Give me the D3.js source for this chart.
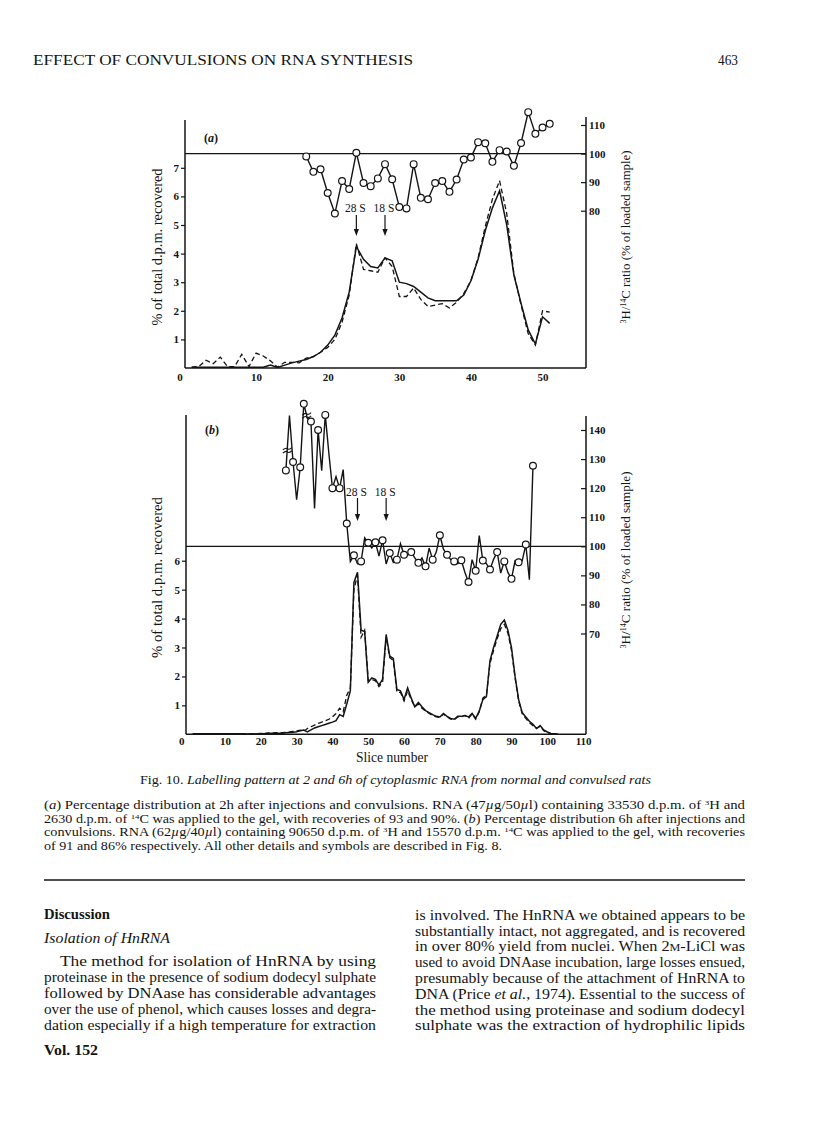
<!DOCTYPE html>
<html><head><meta charset="utf-8">
<script src="https://cdn.jsdelivr.net/npm/d3@7"></script>
<style>body{margin:0;background:#fff}text{white-space:pre}</style>
</head><body>
<svg id="c" width="816" height="1136"></svg>
<script>
// ---------------- DATA ----------------
// Panel (a): 2 h
const slicesA = [1,2,3,4,5,6,7,8,9,10,11,12,13,14,15,16,17,18,19,20,21,22,23,24,25,26,27,28,29,30,31,32,33,34,35,36,37,38,39,40,41,42,43,44,45,46,47,48,49,50,51];
const solidA  = [0.03,0.03,0.03,0.03,0.03,0.03,0.03,0.03,0.03,0.03,0.03,0.1,0.02,0.1,0.18,0.24,0.3,0.4,0.55,0.8,1.15,1.75,2.65,4.25,3.8,3.55,3.5,3.85,3.75,3.0,2.95,2.85,2.65,2.45,2.35,2.35,2.35,2.35,2.55,3.05,3.8,4.8,5.6,6.2,5.0,3.25,2.26,1.33,0.84,1.79,1.56];
const dashedA = [0.03,0.05,0.27,0.15,0.38,0.05,0.05,0.48,0.05,0.52,0.42,0.25,0.03,0.2,0.2,0.18,0.35,0.4,0.55,0.72,1.0,1.6,2.55,4.35,3.45,3.4,3.35,3.85,3.55,2.5,2.5,2.8,2.4,2.15,2.2,2.25,2.1,2.3,2.6,3.05,3.85,4.95,5.9,6.55,5.4,3.3,2.2,1.2,0.8,2.0,1.95];
const ratioSlicesA = [17,18,19,20,21,22,23,24,25,26,27,28,29,30,31,32,33,34,35,36,37,38,39,40,41,42,43,44,45,46,47,48,49,50,51];
const ratioA = [99,93.6,94.5,86.2,79,90.4,87.6,100.3,89.7,88.6,91.3,96.3,91,81.3,80.8,96.3,84.5,84,89.7,90.4,86.6,90.9,97.9,98.6,104,103.6,97.1,101.2,100.7,95.7,103.7,114.5,106.9,109.1,110.4];
const markersA = ["28 S","18 S"];
const markerSlicesA = [24,28];
const xTicksA = [0,10,20,30,40,50];
const leftTicksA = [1,2,3,4,5,6,7];
const rightTicksA = [80,90,100,110];

// Panel (b): 6 h
const slicesB = [1,2,3,4,5,6,7,8,9,10,11,12,13,14,15,16,17,18,19,20,21,22,23,24,25,26,27,28,29,30,31,32,33,34,35,36,37,38,39,40,41,42,43,44,45,46,47,48,49,50,51,52,53,54,55,56,57,58,59,60,61,62,63,64,65,66,67,68,69,70,71,72,73,74,75,76,77,78,79,80,81,82,83,84,85,86,87,88,89,90,91,92,93,94,95,96,97,98,99,100,101,102,103];
const solidB  = [0.02,0.02,0.02,0.02,0.02,0.02,0.02,0.02,0.02,0.02,0.02,0.02,0.02,0.02,0.02,0.01,0.01,0.01,0.02,0.03,0.02,0.03,0.04,0.03,0.04,0.04,0.05,0.06,0.07,0.09,0.12,0.15,0.08,0.15,0.22,0.26,0.3,0.34,0.38,0.42,0.47,0.68,0.62,1.05,1.5,5.25,5.6,3.6,3.55,1.8,1.95,1.9,1.7,1.9,3.45,2.7,2.62,1.55,1.5,1.2,1.6,1.25,0.95,1.1,0.95,0.82,0.75,0.68,0.62,0.6,0.72,0.62,0.55,0.52,0.62,0.62,0.65,0.6,0.72,0.55,0.8,1.2,1.3,2.55,3.0,3.4,3.8,3.95,3.6,3.0,2.0,1.2,0.75,0.6,0.45,0.35,0.2,0.3,0.15,0.08,0.03,0.02,0];
const dashedB = [0.02,0.02,0.02,0.02,0.02,0.02,0.02,0.02,0.02,0.02,0.02,0.02,0.02,0.02,0.02,0.02,0.02,0.02,0.02,0.02,0.03,0.05,0.04,0.06,0.05,0.06,0.07,0.08,0.1,0.12,0.14,0.1,0.2,0.26,0.32,0.38,0.42,0.47,0.52,0.6,0.72,0.9,0.78,1.35,1.6,5.0,5.5,3.35,3.6,1.85,1.9,1.85,1.65,1.8,3.35,2.65,2.55,1.45,1.45,1.15,1.5,1.2,0.95,1.05,0.9,0.8,0.72,0.65,0.6,0.58,0.7,0.6,0.52,0.5,0.6,0.6,0.65,0.55,0.7,0.52,0.78,1.25,1.35,2.45,2.9,3.3,3.65,3.8,3.5,2.9,1.95,1.15,0.7,0.55,0.4,0.3,0.2,0.28,0.12,0.06,0.02,0.01,0];
const ratioSlicesB = [27,28,29,30,31,32,33,34,35,36,37,38,39,40,41,42,43,44,45,46,47,48,49,50,51,52,53,54,55,56,57,58,59,60,61,62,63,64,65,66,67,68,69,70,71,72,73,74,75,76,77,78,79,80,81,82,83,84,85,86,87,88,89,90,91,92,93,94,95,96];
const ratioB = [126.1,145,129,116,127.2,149,144,142.9,113,140,126,145.2,132,120,124,120,126.4,107.8,94.8,96.9,94,94.8,102.9,101.2,99.4,101.4,96.6,102.1,93.9,97.7,94.5,95.4,100.9,97.1,97,98,96,94.3,96,93.1,99.4,95.4,98,103.8,99,97.1,95.5,94.8,94,95.2,91,87.7,95.4,91.6,103.7,95.1,94,92,95.5,98,90.8,94.8,91,88.8,95,94.5,95,100.6,88.5,127.7];
const circleSlicesB = [27,29,31,32,34,36,38,40,42,44,46,48,50,52,54,56,58,60,62,64,66,68,70,72,74,76,78,80,82,84,86,88,90,92,94,96];
const breakSlicesB = [27.4,32.8];
const breakValuesB = [133,145];
const markersB = ["28 S","18 S"];
const markerSlicesB = [47,55];
const xTicksB = [0,10,20,30,40,50,60,70,80,90,100,110];
const leftTicksB = [1,2,3,4,5,6];
const rightTicksB = [70,80,90,100,110,120,130,140];

// ---------------- DRAW ----------------
const svg = d3.select('#c');
const INK = '#141414';
const SERIF = '"Liberation Serif","Times New Roman",serif';

function rich(x, y, segs, o = {}) {
  const size = o.size || 12;
  const t = svg.append('text').attr('x', x).attr('y', y)
    .attr('font-family', SERIF).attr('font-size', size).attr('fill', INK);
  if (o.anchor) t.attr('text-anchor', o.anchor);
  if (o.weight) t.attr('font-weight', o.weight);
  if (o.italic) t.attr('font-style', 'italic');
  if (o.len) t.attr('textLength', o.len).attr('lengthAdjust', 'spacingAndGlyphs');
  if (o.transform) t.attr('transform', o.transform);
  const sh = size * 0.32;
  let up = false;
  segs.forEach(s => {
    const str = typeof s === 'string' ? s : s[0];
    const st = typeof s === 'string' ? '' : s[1];
    const ts = t.append('tspan').text(str);
    if (st === 'sup') {
      ts.attr('font-size', size * 0.62);
      if (!up) { ts.attr('dy', -sh); up = true; }
    } else {
      if (up) { ts.attr('dy', sh); up = false; }
      if (st === 'i') ts.attr('font-style', 'italic');
      if (st === 'b') ts.attr('font-weight', 'bold');
      if (st === 'sc') ts.attr('font-size', size * 0.75);
    }
  });
  return t;
}

function styleAxis(g, size) {
  g.select('.domain').remove();
  g.selectAll('line').attr('stroke', INK).attr('stroke-width', 1.2);
  g.selectAll('text').attr('font-family', SERIF).attr('font-size', size)
    .attr('font-weight', 'bold').attr('fill', INK);
}

function panel(p) {
  const g = svg.append('g');
  const fr = (x1, y1, x2, y2) => g.append('line').attr('x1', x1).attr('y1', y1).attr('x2', x2).attr('y2', y2)
    .attr('stroke', INK).attr('stroke-width', 1.5);
  fr(p.left, p.topL, p.left, p.bottom);
  fr(p.right, p.topR, p.right, p.bottom);
  fr(p.left, p.bottom, p.right, p.bottom);
  fr(p.left, p.r(100), p.right, p.r(100)).attr('stroke-width', 1.3);

  const ax = g.append('g').attr('transform', `translate(0,${p.bottom})`)
    .call(d3.axisBottom(p.x).tickValues(p.xTicks).tickSize(0).tickPadding(p.xPad).tickFormat(d3.format('d')));
  styleAxis(ax, 11);
  ax.selectAll('.tick text').filter(d => d === 0).attr('dx', p.zeroDx);
  const al = g.append('g').attr('transform', `translate(${p.left},0)`)
    .call(d3.axisLeft(p.y).tickValues(p.leftTicks).tickSize(4).tickPadding(2).tickFormat(d3.format('d')));
  styleAxis(al, 11);
  const ar = g.append('g').attr('transform', `translate(${p.right},0)`)
    .call(d3.axisRight(p.r).tickValues(p.rightTicks).tickSize(-5).tickPadding(3).tickFormat(d3.format('d')));
  styleAxis(ar, 11);

  const line = d3.line().x(d => p.x(d.s)).y(d => p.y(d.v));
  const dashData = p.slices.map((s, i) => ({ s, v: p.dashed[i] }));
  const solidData = p.slices.map((s, i) => ({ s, v: p.solid[i] }));
  g.append('path').datum(dashData).attr('d', line).attr('fill', 'none')
    .attr('stroke', INK).attr('stroke-width', 1.3).attr('stroke-dasharray', '5,3');
  g.append('path').datum(solidData).attr('d', line).attr('fill', 'none')
    .attr('stroke', INK).attr('stroke-width', 1.5);

  const rData = p.ratioSlices.map((s, i) => ({ s, v: p.ratio[i] }));
  const rline = d3.line().x(d => p.x(d.s)).y(d => p.r(d.v));
  g.append('path').datum(rData).attr('d', rline).attr('fill', 'none')
    .attr('stroke', INK).attr('stroke-width', 1.4);
  if (p.breakS) {
    p.breakS.forEach((s, i) => {
      const cx = p.x(s), cy = p.r(p.breakV[i]);
      [-1.6, 1.6].forEach(o => {
        g.append('path').attr('d', `M${cx - 4.5},${cy + o + 1.2} Q${cx - 1.5},${cy + o - 1.5} ${cx},${cy + o} T${cx + 4.5},${cy + o - 1.2}`)
          .attr('fill', 'none').attr('stroke', INK).attr('stroke-width', 1.1);
      });
    });
  }
  const cData = rData.filter(d => !p.circleSlices || p.circleSlices.includes(d.s));
  g.selectAll(null).data(cData).enter().append('circle')
    .attr('cx', d => p.x(d.s)).attr('cy', d => p.r(d.v)).attr('r', 3.4)
    .attr('fill', '#fff').attr('stroke', INK).attr('stroke-width', 1.2);

  p.markers.forEach((m, i) => {
    const mx = p.x(p.markerSlices[i]);
    g.append('text').attr('x', mx - 1).attr('y', p.mTextY).attr('text-anchor', 'middle')
      .attr('font-family', SERIF).attr('font-size', 11.5).attr('fill', INK).text(m);
    g.append('line').attr('x1', mx).attr('x2', mx).attr('y1', p.mY1).attr('y2', p.mY2 - 5)
      .attr('stroke', INK).attr('stroke-width', 1.2);
    g.append('path').attr('d', `M${mx - 2.6},${p.mY2 - 7} L${mx + 2.6},${p.mY2 - 7} L${mx},${p.mY2} Z`).attr('fill', INK);
  });

  rich(p.left + 19, p.letterY, ['(', [p.letter, 'i'], ')'], { size: 12, weight: 'bold' });

  rich(0, 0, ['% of total d.p.m. recovered'], { size: 14.5, anchor: 'middle', len: p.leftLen,
    transform: `translate(162,${p.leftMid}) rotate(-90)` });
  rich(0, 0, [['3', 'sup'], 'H/', ['14', 'sup'], 'C ratio (% of loaded sample)'], { size: 13.5, anchor: 'middle', len: p.rightLen,
    transform: `translate(630,${p.rightMid}) rotate(-90)` });
}

panel({
  letter: 'a', letterY: 142,
  left: 185, right: 586, bottom: 368, topL: 120, topR: 117,
  x: d3.scaleLinear().domain([0, 56]).range([184.5, 585.5]),
  y: d3.scaleLinear().domain([0, 7]).range([368, 167.8]),
  r: d3.scaleLinear().domain([80, 110]).range([210.7, 125]),
  xTicks: xTicksA, leftTicks: leftTicksA, rightTicks: rightTicksA, xPad: 5, zeroDx: -5,
  slices: slicesA, solid: solidA, dashed: dashedA,
  ratioSlices: ratioSlicesA, ratio: ratioA,
  markers: markersA, markerSlices: markerSlicesA, mTextY: 212, mY1: 215, mY2: 236,
  leftMid: 247, leftLen: 157, rightMid: 237, rightLen: 173
});

panel({
  letter: 'b', letterY: 434,
  left: 186, right: 586, bottom: 734.3, topL: 415, topR: 416,
  x: d3.scaleLinear().domain([0, 110]).range([189.2, 583.1]),
  y: d3.scaleLinear().domain([0, 6]).range([734.3, 560.7]),
  r: d3.scaleLinear().domain([70, 140]).range([633.5, 430]),
  xTicks: xTicksB, leftTicks: leftTicksB, rightTicks: rightTicksB, xPad: 3, zeroDx: -8,
  slices: slicesB, solid: solidB, dashed: dashedB,
  ratioSlices: ratioSlicesB, ratio: ratioB, circleSlices: circleSlicesB,
  breakS: breakSlicesB, breakV: breakValuesB,
  markers: markersB, markerSlices: markerSlicesB, mTextY: 495.5, mY1: 498, mY2: 521,
  leftMid: 577.5, leftLen: 161, rightMid: 560, rightLen: 177
});

rich(392, 762, ['Slice number'], { size: 15, anchor: 'middle', len: 72 });

// ---------------- PAGE TEXT ----------------
rich(33, 65, ['EFFECT OF CONVULSIONS ON RNA SYNTHESIS'], { size: 14.5, len: 380 });
rich(738, 65, ['463'], { size: 14.5, anchor: 'end', len: 20 });

rich(140, 783.5, ['Fig. 10. ', ['Labelling pattern at 2 and 6', 'i'], ['h', 'i'], [' of cytoplasmic RNA from normal and convulsed rats', 'i']], { size: 13, len: 511 });

const capLines = [
  ['(', ['a', 'i'], ') Percentage distribution at 2h after injections and convulsions. RNA (47', ['µ', 'i'], 'g/50', ['µ', 'i'], 'l) containing 33530 d.p.m. of ', ['3', 'sup'], 'H and'],
  ['2630 d.p.m. of ', ['14', 'sup'], 'C was applied to the gel, with recoveries of 93 and 90%. (', ['b', 'i'], ') Percentage distribution 6h after injections and'],
  ['convulsions. RNA (62', ['µ', 'i'], 'g/40', ['µ', 'i'], 'l) containing 90650 d.p.m. of ', ['3', 'sup'], 'H and 15570 d.p.m. ', ['14', 'sup'], 'C was applied to the gel, with recoveries'],
  ['of 91 and 86% respectively. All other details and symbols are described in Fig. 8.']
];
const capY = [809, 822.5, 836, 849.5];
const capLen = [701, 701, 701, 458];
capLines.forEach((l, i) => rich(44, capY[i], l, { size: 11.5, len: capLen[i] }));

svg.append('line').attr('x1', 44).attr('x2', 745).attr('y1', 880).attr('y2', 880)
  .attr('stroke', INK).attr('stroke-width', 1.4);

rich(44, 918.5, ['Discussion'], { size: 14, weight: 'bold', len: 66 });
rich(44, 943, ['Isolation of HnRNA'], { size: 14.5, italic: true, len: 126 });
const leftCol = [
  ['The method for isolation of HnRNA by using'],
  ['proteinase in the presence of sodium dodecyl sulphate'],
  ['followed by DNAase has considerable advantages'],
  ['over the use of phenol, which causes losses and degra-'],
  ['dation especially if a high temperature for extraction']
];
const leftY = [966, 982, 997.5, 1013.5, 1030];
leftCol.forEach((l, i) => rich(i === 0 ? 60 : 44, leftY[i], l, { size: 14.5, len: i === 0 ? 316 : 332 }));
rich(44, 1055, ['Vol. 152'], { size: 14.5, weight: 'bold', len: 54 });

const rightCol = [
  ['is involved. The HnRNA we obtained appears to be'],
  ['substantially intact, not aggregated, and is recovered'],
  ['in over 80% yield from nuclei. When 2', ['M', 'sc'], '-LiCl was'],
  ['used to avoid DNAase incubation, large losses ensued,'],
  ['presumably because of the attachment of HnRNA to'],
  ['DNA (Price ', ['et al.', 'i'], ', 1974). Essential to the success of'],
  ['the method using proteinase and sodium dodecyl'],
  ['sulphate was the extraction of hydrophilic lipids']
];
const rightY = [919.5, 936, 951, 966.5, 982.5, 999, 1014.5, 1030];
rightCol.forEach((l, i) => rich(415, rightY[i], l, { size: 14.5, len: 330 }));
</script>
</body></html>
